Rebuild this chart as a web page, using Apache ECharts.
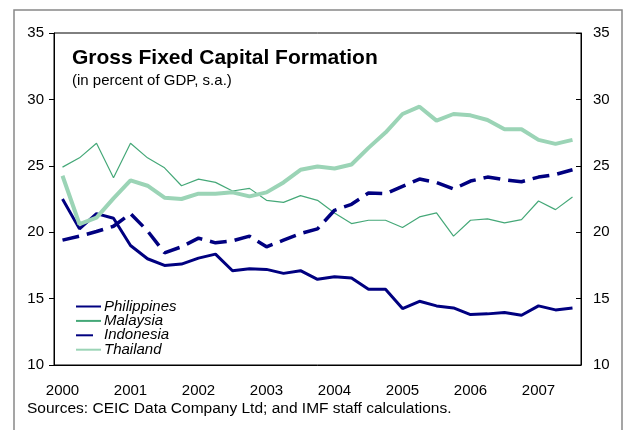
<!DOCTYPE html>
<html lang="en">
<head>
    <meta charset="UTF-8">
    <title>Gross Fixed Capital Formation</title>
    <script src="https://cdn.jsdelivr.net/npm/echarts@6/dist/echarts.min.js"></script>
    <style>
        body { margin: 0; background: #fff; }
    </style>
</head>
<body>
    <div id="chartDiv" style="width: 624px;height:430px;"></div>
    <script>
        // quarterly, 2000Q1 - 2007Q3
        var years = ['2000', '2001', '2002', '2003', '2004', '2005', '2006', '2007'];
        var quarters = [];
        for (var y = 0; y < years.length; y++) {
            for (var q = 1; q <= 4; q++) {
                if (quarters.length < 31) quarters.push(years[y] + 'Q' + q);
            }
        }

        var philippines = [22.5, 20.25, 21.4, 21.05, 19.0, 18.0, 17.5, 17.6, 18.05, 18.35, 17.1, 17.25, 17.2, 16.9, 17.1, 16.45,
            16.65, 16.55, 15.7, 15.7, 14.25, 14.8, 14.45, 14.3, 13.8, 13.85, 13.95, 13.75, 14.45, 14.15, 14.3];
        var malaysia = [24.9, 25.6, 26.7, 24.1, 26.7, 25.6, 24.85, 23.5, 24.0, 23.75, 23.1, 23.3, 22.4, 22.25, 22.75, 22.4,
            21.45, 20.65, 20.9, 20.9, 20.35, 21.15, 21.45, 19.7, 20.9, 21.0, 20.7, 20.95, 22.35, 21.7, 22.65];
        var indonesia = [19.4, 19.7, 20.05, 20.45, 21.4, 20.1, 18.45, 18.9, 19.55, 19.2, 19.35, 19.7, 18.9, 19.4, 19.9, 20.25,
            21.65, 22.1, 22.95, 22.9, 23.45, 24.0, 23.75, 23.25, 23.85, 24.15, 23.95, 23.8, 24.15, 24.35, 24.7];
        var thailand = [24.25, 20.6, 21.1, 22.55, 23.9, 23.5, 22.6, 22.5, 22.9, 22.9, 23.0, 22.7, 23.0, 23.75, 24.7, 24.95,
            24.8, 25.1, 26.35, 27.5, 28.9, 29.45, 28.4, 28.9, 28.8, 28.45, 27.75, 27.75, 26.95, 26.65, 26.95];

        var font = 'Arial, "Liberation Sans", sans-serif';
        var mychart = echarts.init(document.getElementById('chartDiv'));

        var yAxisCommon = {
            type: 'value',
            min: 10,
            max: 35,
            interval: 5,
            splitLine: { show: false },
            axisLine: { show: true, lineStyle: { color: '#000', width: 1 } },
            axisLabel: { color: '#000', fontSize: 15, fontFamily: font }
        };

        var option = {
            animation: false,
            textStyle: { fontFamily: font },
            title: {
                text: 'Gross Fixed Capital Formation',
                subtext: '(in percent of GDP, s.a.)',
                left: 72,
                top: 48,
                itemGap: 4,
                padding: 0,
                textStyle: { fontSize: 21, fontWeight: 'bold', color: '#000', fontFamily: font },
                subtextStyle: { fontSize: 15, color: '#000', fontFamily: font }
            },
            legend: {
                orient: 'vertical',
                left: 75,
                top: 299,
                padding: 0,
                itemWidth: 25,
                itemHeight: 8,
                itemGap: -0.6,
                itemStyle: { opacity: 0 },
                textStyle: { fontSize: 15, fontStyle: 'italic', color: '#000', fontFamily: font, lineHeight: 13, padding: [0, 0, 0, -2] },
                data: ['Philippines', 'Malaysia', 'Indonesia', 'Thailand']
            },
            grid: {
                left: 54,
                right: 43,
                top: 33,
                bottom: 65,
                show: true,
                borderColor: '#000',
                borderWidth: 1
            },
            xAxis: {
                type: 'category',
                data: quarters,
                boundaryGap: true,
                axisLine: { lineStyle: { color: '#000', width: 1 } },
                axisTick: { interval: 3, inside: true, length: 4, lineStyle: { color: '#000' } },
                axisLabel: {
                    interval: 3,
                    margin: 18,
                    color: '#000',
                    fontSize: 15,
                    fontFamily: font,
                    formatter: function (v) { return v.slice(0, 4); }
                }
            },
            yAxis: [
                Object.assign({}, yAxisCommon, {
                    position: 'left',
                    axisTick: { show: true, inside: false, length: 5, lineStyle: { color: '#000' } },
                    axisLabel: Object.assign({}, yAxisCommon.axisLabel, { margin: 10 })
                }),
                Object.assign({}, yAxisCommon, {
                    position: 'right',
                    axisTick: { show: true, inside: true, length: 5, lineStyle: { color: '#000' } },
                    axisLabel: Object.assign({}, yAxisCommon.axisLabel, { margin: 12 })
                })
            ],
            series: [
                {
                    name: 'Philippines',
                    type: 'line',
                    data: philippines,
                    symbol: 'none',
                    legendIcon: 'none',
                    color: '#000080',
                    lineStyle: { width: 3, color: '#000080' }
                },
                {
                    name: 'Malaysia',
                    type: 'line',
                    data: malaysia,
                    symbol: 'none',
                    legendIcon: 'none',
                    color: '#45a878',
                    lineStyle: { width: 1.2, color: '#45a878' }
                },
                {
                    name: 'Indonesia',
                    type: 'line',
                    data: indonesia,
                    symbol: 'none',
                    legendIcon: 'none',
                    color: '#000080',
                    lineStyle: { width: 3.5, color: '#000080', type: [17, 8] }
                },
                {
                    name: 'Thailand',
                    type: 'line',
                    data: thailand,
                    symbol: 'none',
                    legendIcon: 'none',
                    color: '#9bd4b6',
                    lineStyle: { width: 4, color: '#9bd4b6' }
                }
            ],
            graphic: [
                {
                    type: 'rect',
                    shape: { x: 14, y: 10, width: 608, height: 440 },
                    style: { fill: 'none', stroke: '#888', lineWidth: 1.5 },
                    silent: true
                },
                {
                    type: 'text',
                    left: 27,
                    top: 401,
                    style: {
                        text: 'Sources: CEIC Data Company Ltd; and IMF staff calculations.',
                        fontSize: 15.5,
                        fontFamily: font,
                        fill: '#000'
                    }
                }
            ]
        };

        mychart.setOption(option, true);
    </script>
</body>
</html>
